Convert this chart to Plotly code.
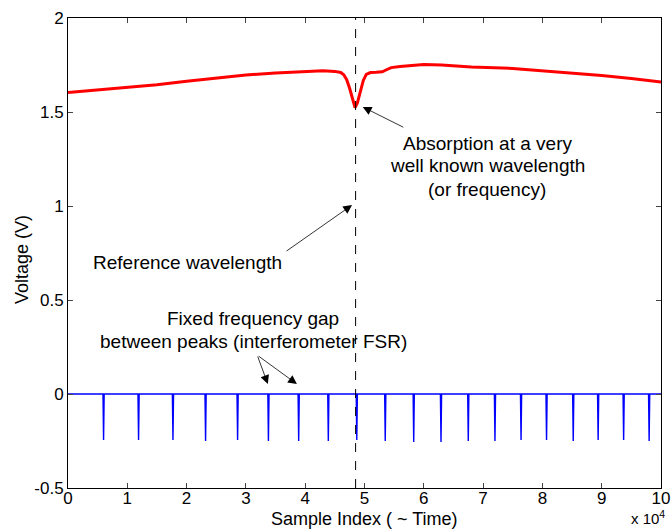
import plotly.graph_objects as go

# Red absorption trace (x in units of 1e4 samples)
red_x = [0, 0.5, 1.0, 1.5, 2.0, 2.5, 3.0, 3.5, 4.0, 4.3, 4.5, 4.6, 4.65, 4.7, 4.75, 4.8, 4.84, 4.88,
         4.93, 4.98, 5.03, 5.1, 5.2, 5.3, 5.38, 5.45, 5.6, 6.0, 6.3, 6.8, 7.5, 8.0, 8.5, 9.0, 9.5, 10.0]
red_y = [1.604, 1.618, 1.630, 1.645, 1.663, 1.680, 1.697, 1.708, 1.718, 1.720, 1.716, 1.710, 1.698, 1.672,
         1.625, 1.562, 1.524, 1.548, 1.610, 1.668, 1.700, 1.710, 1.711, 1.714, 1.726, 1.736, 1.742, 1.752,
         1.750, 1.740, 1.732, 1.720, 1.706, 1.694, 1.678, 1.660]

# Interferometer peaks (blue)
spike_x = [0.60, 1.19, 1.77, 2.32, 2.86, 3.38, 3.89, 4.39, 4.87, 5.35, 5.83, 6.29, 6.75, 7.20,
           7.64, 8.07, 8.52, 8.94, 9.37, 9.80]
spike_depth = [-0.245, -0.245, -0.245, -0.25, -0.245, -0.25, -0.25, -0.25, -0.245, -0.25, -0.255,
               -0.255, -0.25, -0.25, -0.245, -0.245, -0.25, -0.245, -0.245, -0.25]
baseline = 0.0
ref_wavelength_x = 4.85

xticks = [0, 1, 2, 3, 4, 5, 6, 7, 8, 9, 10]
yticks = [-0.5, 0, 0.5, 1, 1.5, 2]
ytick_text = ["-0.5", "0", "0.5", "1", "1.5", "2"]

absorption_lines = ["Absorption at a very", "well known wavelength", "(or frequency)"]
fsr_lines = ["Fixed frequency gap", "between peaks (interferometer FSR)"]

blue_x = [0.0]
blue_y = [baseline]
for sx, sd in zip(spike_x, spike_depth):
    blue_x += [sx - 0.01, sx, sx + 0.01]
    blue_y += [baseline, sd, baseline]
blue_x.append(10.0)
blue_y.append(baseline)

fig = go.Figure()
fig.add_trace(go.Scatter(x=red_x, y=red_y, mode="lines", line=dict(color="#ff0000", width=3),
                         hoverinfo="skip"))
fig.add_trace(go.Scatter(x=blue_x, y=blue_y, mode="lines", line=dict(color="#0000ff", width=1.4),
                         hoverinfo="skip"))
fig.add_trace(go.Scatter(x=[ref_wavelength_x, ref_wavelength_x], y=[-0.5, 2], mode="lines",
                         line=dict(color="black", width=1, dash="dash"), hoverinfo="skip"))

fam = "Liberation Sans, Arial, sans-serif"
font = dict(family=fam, size=19, color="black")

arrow = dict(xref="x", yref="y", axref="x", ayref="y", text="", showarrow=True,
             arrowhead=2, arrowsize=2.2, arrowwidth=0.8, arrowcolor="black")

annotations = [
    dict(x=4.97, y=1.527, ax=5.68, ay=1.415, **arrow),
    dict(x=4.79, y=1.005, ax=3.66, ay=0.755, **arrow),
    dict(x=3.37, y=0.053, ax=3.19, ay=0.207, **arrow),
    dict(x=3.86, y=0.053, ax=3.19, ay=0.207, **arrow),
    dict(x=2.02, y=0.697, xref="x", yref="y", showarrow=False, text="Reference wavelength", font=font),
]
for txt, yv in zip(absorption_lines, [1.335, 1.213, 1.090]):
    annotations.append(dict(x=7.07, y=yv, xref="x", yref="y", showarrow=False, text=txt, font=font))
for txt, yv in zip(fsr_lines, [0.399, 0.277]):
    annotations.append(dict(x=3.12, y=yv, xref="x", yref="y", showarrow=False, text=txt, font=font))

# axis titles and exponent label
annotations += [
    dict(x=0.5, y=0, xref="paper", yref="paper", yanchor="middle", yshift=-31, showarrow=False,
         text="Sample Index ( ~ Time)", font=dict(family=fam, size=18)),
    dict(x=0, y=0.5, xref="paper", yref="paper", xanchor="center", xshift=-46, yshift=-7,
         showarrow=False, textangle=-90, text="Voltage (V)", font=dict(family=fam, size=18)),
    dict(x=1.0, y=0, xref="paper", yref="paper", xanchor="right", yanchor="bottom", yshift=-41,
         xshift=6, showarrow=False, text="x 10<sup>4</sup>", font=dict(family=fam, size=15)),
]

fig.update_layout(
    width=671, height=530,
    margin=dict(l=68, r=10, t=18, b=42),
    paper_bgcolor="white", plot_bgcolor="white",
    showlegend=False,
    font=font,
    annotations=annotations,
    xaxis=dict(range=[0, 10], tickvals=xticks, ticks="inside", ticklen=5, showgrid=False, zeroline=False,
               showline=True, linecolor="black", linewidth=1, mirror="ticks", automargin=False,
               ticklabelstandoff=-5, tickfont=dict(family=fam, size=17)),
    yaxis=dict(range=[-0.5, 2], tickvals=yticks, ticktext=ytick_text, ticks="inside", ticklen=5,
               showgrid=False, zeroline=False, showline=True, linecolor="black", linewidth=1,
               mirror="ticks", automargin=False, tickfont=dict(family=fam, size=17)),
)

fig.write_html("out.html")
